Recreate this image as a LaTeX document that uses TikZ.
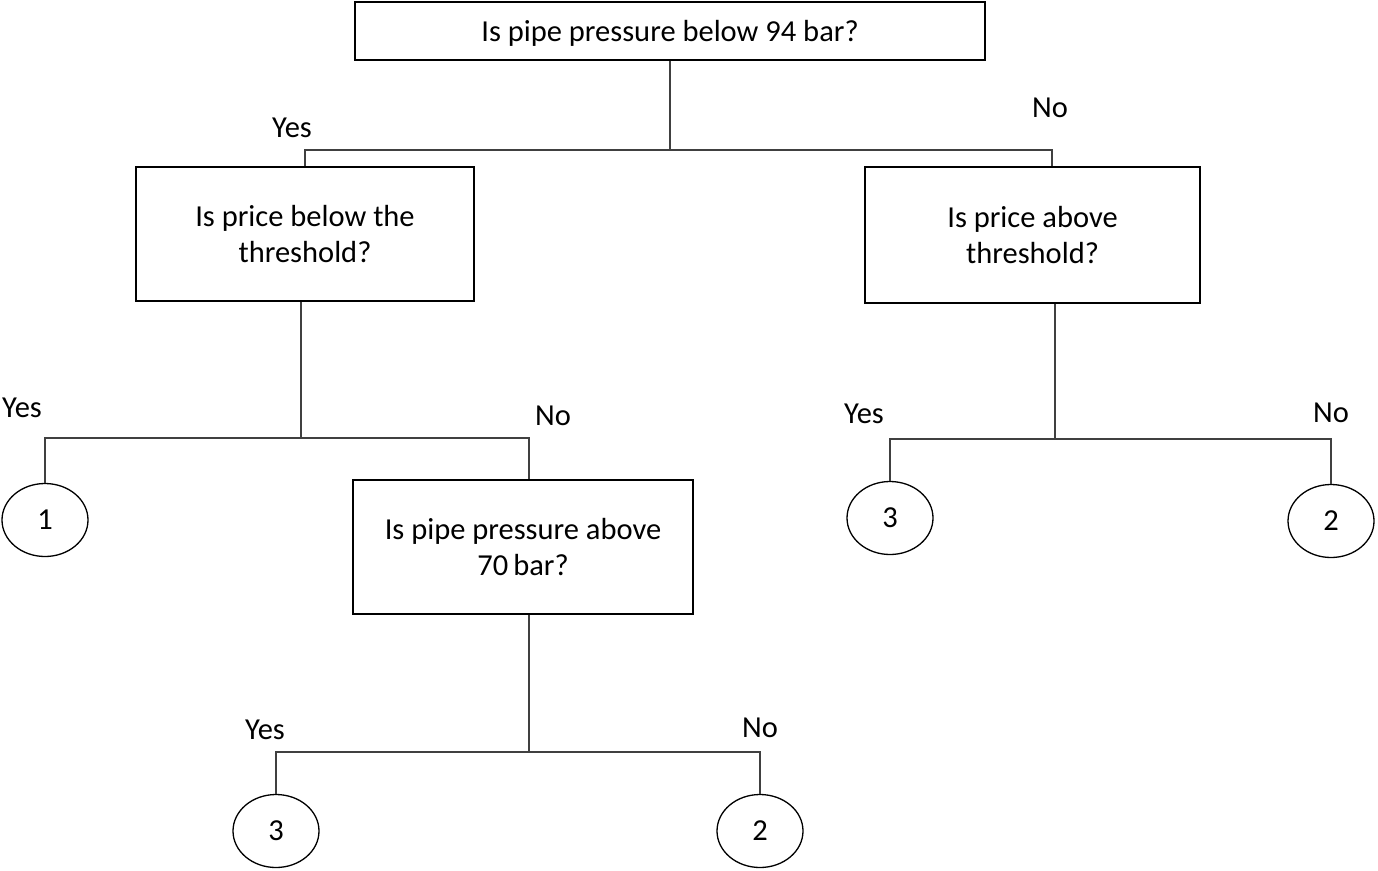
\documentclass[tikz,border=0pt]{standalone}
\usepackage{fontspec}
\setmainfont{Carlito}
\usetikzlibrary{shapes.geometric}
\begin{document}
\begin{tikzpicture}[x=1pt,y=-1pt,
  qbox/.style={draw=black,line width=1.6pt,rectangle,inner sep=0pt,align=center,
    font=\fontsize{30.5}{36}\selectfont},
  leaf/.style={draw=black,line width=1.3pt,ellipse,inner sep=0pt,
    minimum width=86pt,minimum height=73pt,font=\fontsize{30.5}{34}\selectfont},
  lab/.style={inner sep=0pt,font=\fontsize{30.5}{34}\selectfont},
  conn/.style={draw=black!75,line width=1.1pt}]
\useasboundingbox (0,0) rectangle (1378,870);
% question boxes
\node[qbox,minimum width=630pt,minimum height=58pt,text depth=0pt] (top) at (670,31) {Is pipe pressure below 94 bar?};
\node[qbox,minimum width=338pt,minimum height=134pt] (lbox) at (305,234) {Is price below the\\threshold?};
\node[qbox,minimum width=335pt,minimum height=136pt] (rbox) at (1032.5,235) {Is price above\\threshold?};
\node[qbox,minimum width=340pt,minimum height=134pt] (mbox) at (523,547) {Is pipe pressure above\\70\,bar?};
% leaves
\node[leaf] (c1) at (45,520) {1};
\node[leaf] (c3r) at (890,518) {3};
\node[leaf] (c2r) at (1331,521) {2};
\node[leaf] (c3b) at (276,831) {3};
\node[leaf] (c2b) at (760,831) {2};
% labels
\node[lab] (y1) at (292,128) {Yes};
\node[lab] (n1) at (1050,108) {No};
\node[lab] (y2) at (22,408) {Yes};
\node[lab] (n2) at (553,416) {No};
\node[lab] (y3) at (864,414) {Yes};
\node[lab] (n3) at (1331,413) {No};
\node[lab] (y4) at (265,730) {Yes};
\node[lab] (n4) at (760,728) {No};
% junction coordinates
\coordinate (j1) at (670,150);
\coordinate (b1l) at (305,150);
\coordinate (b1r) at (1052,150);
\coordinate (j2) at (301,438);
\coordinate (b2l) at (45,438);
\coordinate (b2r) at (529,438);
\coordinate (j3) at (1055,439);
\coordinate (b3l) at (890,439);
\coordinate (b3r) at (1331,439);
\coordinate (j4) at (529,752);
\coordinate (b4l) at (276,752);
\coordinate (b4r) at (760,752);
% connectors
\draw[conn] (top.south) -- (j1);
\draw[conn] (lbox.north) -- (b1l) -- (b1r) -- (b1r |- rbox.north);
\draw[conn] (j2 |- lbox.south) -- (j2);
\draw[conn] (c1.north) -- (b2l) -- (b2r) -- (b2r |- mbox.north);
\draw[conn] (j3 |- rbox.south) -- (j3);
\draw[conn] (c3r.north) -- (b3l) -- (b3r) -- (c2r.north);
\draw[conn] (j4 |- mbox.south) -- (j4);
\draw[conn] (c3b.north) -- (b4l) -- (b4r) -- (c2b.north);
\end{tikzpicture}
\end{document}
